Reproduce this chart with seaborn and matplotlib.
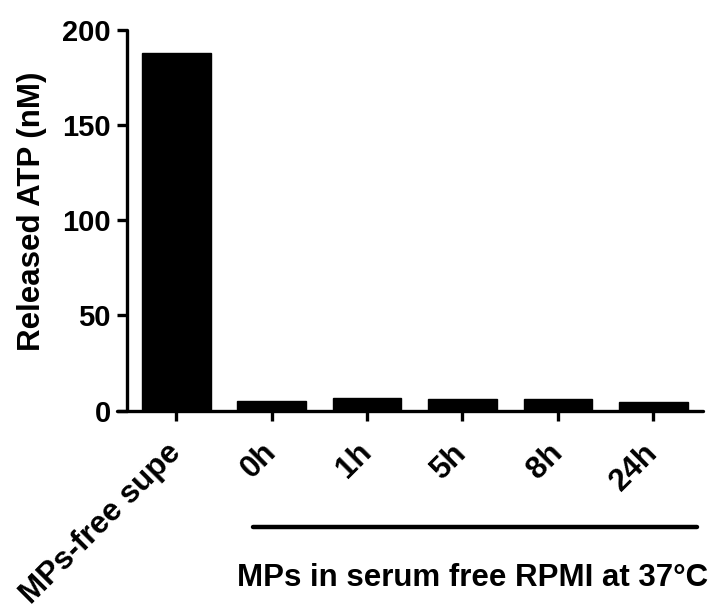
import matplotlib
matplotlib.use("Agg")
import matplotlib.pyplot as plt
from matplotlib.lines import Line2D
import seaborn as sns
import pandas as pd

categories = ["MPs-free supe", "0h", "1h", "5h", "8h", "24h"]
values = [188, 5.0, 6.5, 6.2, 5.9, 4.4]
yticks = [0, 50, 100, 150, 200]
ylabel = "Released ATP (nM)"
group_label = "MPs in serum free RPMI at 37\u00b0C"

sns.set_theme(style="ticks")
plt.rcParams["font.family"] = ["Liberation Sans", "DejaVu Sans"]
plt.rcParams["font.weight"] = "bold"
for k in ["text.color", "axes.labelcolor", "xtick.color", "ytick.color",
          "xtick.labelcolor", "ytick.labelcolor", "axes.edgecolor"]:
    plt.rcParams[k] = "black"

df = pd.DataFrame({"cat": categories, "val": values})

fig = plt.figure(figsize=(7.15, 6.1), dpi=100)
W, H = 715, 610
ax = fig.add_axes([117 / W, 1 - 410.5 / H, (703 - 117) / W, (410.5 - 30) / H])

sns.barplot(data=df, x="cat", y="val", color="black", width=0.72,
            edgecolor="black", linewidth=1, saturation=1, ax=ax)

for s in ["top", "right"]:
    ax.spines[s].set_visible(False)
ax.spines["left"].set_position(("data", -0.51))
for s in ["left", "bottom"]:
    ax.spines[s].set_linewidth(2.4)
    ax.spines[s].set_color("black")
    ax.spines[s].set_capstyle("round")

ax.set_xlim(-0.62, 5.52)
ax.set_ylim(0, 200)
ax.grid(False)

ax.tick_params(axis="both", length=7, width=2.4, color="black",
               labelcolor="black", direction="out")
ax.tick_params(axis="y", pad=5, labelsize=21)
ax.tick_params(axis="x", pad=20, labelsize=22.5)

ax.set_yticks(yticks)
ax.set_yticklabels([str(t) for t in yticks], fontsize=21, fontweight="bold",
                   color="black")
ax.set_xticks(range(len(categories)))
ax.set_xticklabels(categories, fontsize=22.5, fontweight="bold", rotation=45,
                   ha="right", va="center", rotation_mode="anchor", color="black")
ax.set_xlabel("")
ax.set_ylabel(ylabel, fontsize=22.5, fontweight="bold", va="center", color="black")
ax.yaxis.set_label_coords(-0.145, 0.524)

fig.add_artist(Line2D([253 / W, 697 / W], [1 - 527 / H, 1 - 527 / H],
                      transform=fig.transFigure, color="black", linewidth=3.2,
                      solid_capstyle="round"))
fig.text(473 / W, 1 - 578 / H, group_label, ha="center", va="center",
         fontsize=22.5, fontweight="bold", color="black")

fig.savefig("out.png", dpi=100)
